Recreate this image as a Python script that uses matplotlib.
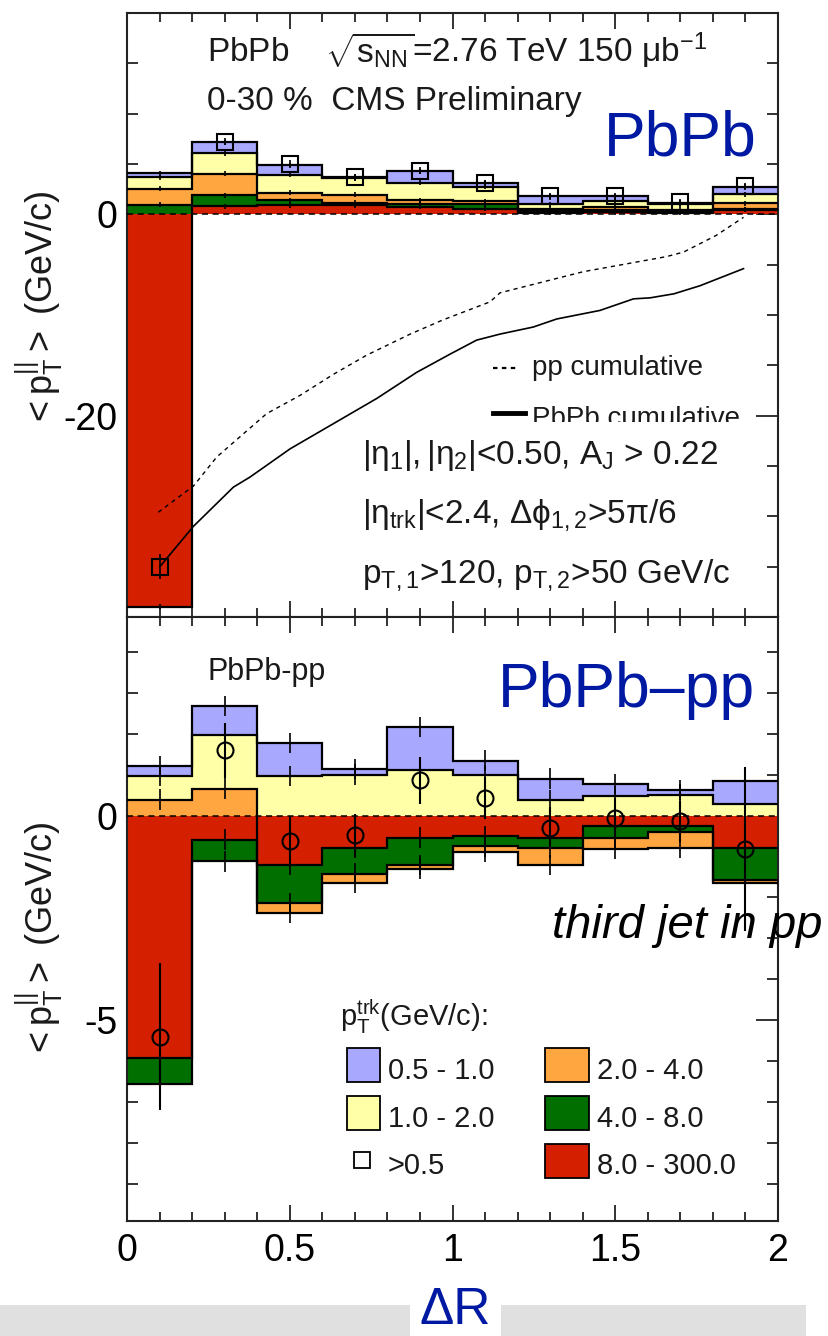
import numpy as np
import matplotlib
matplotlib.use('Agg')
import matplotlib.pyplot as plt
from matplotlib.patches import Rectangle
from matplotlib.ticker import MultipleLocator

plt.rcParams['font.family'] = ['Liberation Sans', 'DejaVu Sans']
plt.rcParams['mathtext.fontset'] = 'custom'
plt.rcParams['mathtext.rm'] = 'Liberation Sans'
plt.rcParams['mathtext.it'] = 'Liberation Sans'
plt.rcParams['mathtext.bf'] = 'Liberation Sans:bold'
plt.rcParams['axes.unicode_minus'] = False

# Delta R bins
dr_edges = [0.0, 0.2, 0.4, 0.6, 0.8, 1.0, 1.2, 1.4, 1.6, 1.8, 2.0]
dr_centers = [0.1, 0.3, 0.5, 0.7, 0.9, 1.1, 1.3, 1.5, 1.7, 1.9]

# pT^trk ranges, stacked from zero outwards
layer_names = ['8.0 - 300.0', '4.0 - 8.0', '2.0 - 4.0', '1.0 - 2.0', '0.5 - 1.0']
layer_colors = ['#d42000', '#006f00', '#ffa640', '#ffffa8', '#a8a8ff']

# top panel: PbPb 0-30%
pbpb_red = [-39.0, 0.8, 0.9, 0.9, 0.73, 0.57, 0.15, 0.2, 0.15, 0.47]
pbpb_green = [0.96, 1.1, 0.5, 0.26, 0.33, 0.43, 0.2, 0.25, 0.15, 0.05]
pbpb_orange = [1.59, 2.15, 0.72, 0.8, 0.33, 0.29, 0.22, 0.28, 0.17, 0.6]
pbpb_yellow = [1.15, 2.0, 1.83, 1.6, 1.76, 1.43, 0.43, 0.56, 0.53, 0.87]
pbpb_blue = [0.4, 1.1, 0.93, 0.15, 1.13, 0.43, 0.79, 0.5, 0.16, 0.73]
pbpb_total = [-35.0, 7.2, 5.0, 3.7, 4.35, 3.1, 1.8, 1.8, 1.2, 2.8]
pbpb_total_err = [1.25, 0.35, 0.35, 0.35, 0.35, 0.35, 0.35, 0.35, 0.35, 0.35]

# cumulative curves (top panel)
pp_cum_x = [0.096, 0.204, 0.276, 0.429, 0.531, 0.634, 0.736, 0.87, 0.97, 1.115, 1.146, 1.402, 1.658, 1.71, 1.81, 1.894]
pp_cum_y = [-29.6, -27.0, -24.1, -19.8, -18.0, -15.9, -14.0, -11.9, -10.5, -8.7, -7.8, -5.7, -4.2, -3.75, -2.1, -0.3]
pbpb_cum_x = [0.101, 0.204, 0.327, 0.378, 0.501, 0.634, 0.767, 0.89, 0.992, 1.074, 1.146, 1.248, 1.32, 1.453, 1.556, 1.607, 1.68, 1.76, 1.894]
pbpb_cum_y = [-35.0, -31.0, -27.1, -26.1, -23.3, -20.8, -18.3, -15.7, -13.9, -12.5, -11.9, -11.2, -10.4, -9.55, -8.4, -8.3, -7.9, -7.1, -5.4]

# bottom panel: PbPb - pp
diff_red = [-5.93, -0.59, -1.21, -0.79, -0.54, -0.51, -0.54, -0.26, -0.26, -0.79]
diff_green = [-0.62, -0.53, -0.92, -0.63, -0.67, -0.24, -0.25, -0.28, -0.13, -0.79]
diff_orange = [0.39, 0.66, -0.24, -0.22, -0.09, -0.13, -0.42, -0.27, -0.40, -0.06]
diff_yellow = [0.57, 1.30, 0.96, 1.0, 1.12, 0.98, 0.37, 0.47, 0.51, 0.29]
diff_blue = [0.24, 0.72, 0.81, 0.14, 1.04, 0.36, 0.53, 0.30, 0.11, 0.55]
diff_total = [-5.4, 1.59, -0.63, -0.48, 0.86, 0.43, -0.3, -0.06, -0.14, -0.81]
diff_total_err = [1.8, 0.67, 0.62, 0.52, 0.57, 0.52, 0.51, 0.5, 0.5, 2.0]

layer_err = 0.25
blue_txt = '#0019a3'


def draw_stack(ax, layers, err):
    pos = np.zeros(len(dr_centers))
    neg = np.zeros(len(dr_centers))
    for vals, col in zip(layers, layer_colors):
        v = np.asarray(vals, dtype=float)
        up = v >= 0
        lo = np.where(up, pos, neg + v)
        hi = np.where(up, pos + v, neg)
        far = np.where(up, hi, lo)
        pos = np.where(up, hi, pos)
        neg = np.where(up, neg, lo)
        ax.stairs(hi, dr_edges, baseline=lo, fill=True, color=col, lw=0, zorder=2)
        ax.stairs(far, dr_edges, baseline=None, color='k', lw=1.6, zorder=3)
        ax.errorbar(dr_centers, far, yerr=err, fmt='none', ecolor='k',
                    elinewidth=1.2, zorder=3)


fig = plt.figure(figsize=(8.29, 13.36), dpi=100)
ax1 = fig.add_axes([0.1532, 0.5382, 0.7853, 0.4521])
ax2 = fig.add_axes([0.1532, 0.0861, 0.7853, 0.4521])

# ---- top panel
draw_stack(ax1, [pbpb_red, pbpb_green, pbpb_orange, pbpb_yellow, pbpb_blue], layer_err)
ax1.axhline(0, color='k', ls=(0, (4, 3)), lw=1.1, zorder=4)
ax1.plot(pp_cum_x, pp_cum_y, color='k', ls=(0, (3, 3)), lw=1.0, zorder=4)
ax1.plot(pbpb_cum_x, pbpb_cum_y, color='k', lw=1.2, zorder=4)
ax1.errorbar(dr_centers, pbpb_total, yerr=pbpb_total_err, fmt='s', ms=11.5,
             mfc='none', mec='k', mew=1.5, ecolor='k', elinewidth=1.2, zorder=5)
ax1.set_xlim(0, 2)
ax1.set_ylim(-40, 20)
ax1.set_yticks([-20, 0])
ax1.yaxis.set_minor_locator(MultipleLocator(5))

ax1.text(0.246, 15.12, r'PbPb    $\sqrt{s_{NN}}$=2.76 TeV 150 $\mu$b$^{-1}$', size=24, color='#1a1a1a')
ax1.text(0.246, 10.35, '0-30 %  CMS Preliminary', size=24, color='#1a1a1a')
ax1.text(1.935, 5.87, 'PbPb', ha='right', size=45, color=blue_txt)

# cumulative legend
ax1.plot([1.124, 1.201], [-15.3, -15.3], color='k', ls=(0, (2, 2)), lw=1.6)
ax1.text(1.244, -16.0, 'pp cumulative', size=20, color='#1a1a1a')
ax1.plot([1.124, 1.223], [-19.7, -19.7], color='k', lw=3.5)
clip = Rectangle((1.1, -20.65), 0.9, 8, transform=ax1.transData)
t = ax1.text(1.244, -21.0, 'PbPb cumulative', size=20, color='#1a1a1a', clip_on=True)
t.set_clip_path(clip)

ax1.text(0.722, -24.8, r'$|\eta_{1}|,|\eta_{2}|$<0.50, A$_{J}$ > 0.22', size=24, color='#1a1a1a')
ax1.text(0.722, -30.6, r'$|\eta_{trk}|$<2.4, $\Delta\phi_{1,2}$>5$\pi$/6', size=24, color='#1a1a1a')
ax1.text(0.722, -36.6, r'p$_{T,1}$>120, p$_{T,2}$>50 GeV/c', size=24, color='#1a1a1a')

# ---- bottom panel
draw_stack(ax2, [diff_red, diff_green, diff_orange, diff_yellow, diff_blue], layer_err)
ax2.axhline(0, color='k', ls=(0, (4, 3)), lw=1.1, zorder=4)
ax2.errorbar(dr_centers, diff_total, yerr=diff_total_err, fmt='o', ms=11.5,
             mfc='none', mec='k', mew=1.5, ecolor='k', elinewidth=1.5, zorder=5)
ax2.set_xlim(0, 2)
ax2.set_ylim(-9.9, 4.85)
ax2.set_yticks([-5, 0])
ax2.yaxis.set_minor_locator(MultipleLocator(1))

ax2.text(0.246, 3.32, 'PbPb-pp', size=22, color='#1a1a1a')
ax2.text(1.929, 2.66, 'PbPb\u2013pp', ha='right', size=45, color=blue_txt)

# pT^trk legend
ax2.text(0.654, -5.15, r'p$_{T}^{trk}$(GeV/c):', size=21, color='#1a1a1a')
legend_cells = [
    (0.676, 0.101, -6.51, 0.802, -6.44, 4),
    (0.676, 0.101, -7.68, 0.802, -7.60, 3),
    (1.284, 0.135, -6.51, 1.444, -6.44, 2),
    (1.284, 0.135, -7.68, 1.444, -7.60, 1),
    (1.284, 0.135, -8.84, 1.444, -8.76, 0),
]
for bx, bw, by, tx, ty, k in legend_cells:
    ax2.add_patch(Rectangle((bx, by), bw, 0.83, facecolor=layer_colors[k],
                            edgecolor='k', lw=1.3, zorder=6))
    ax2.text(tx, ty, layer_names[k], size=21, color='#1a1a1a')
ax2.plot([0.722], [-8.42], marker='s', ms=11, mfc='none', mec='k', mew=1.3, ls='none')
ax2.text(0.802, -8.76, '>0.5', size=21, color='#1a1a1a')

# ---- axes styling
for ax in (ax1, ax2):
    ax.xaxis.set_major_locator(MultipleLocator(0.5))
    ax.xaxis.set_minor_locator(MultipleLocator(0.1))
    ax.tick_params(which='both', direction='in', top=True, right=True,
                   width=1.3, color='#222222', labelsize=27)
    ax.tick_params(axis='x', which='major', length=11.5)
    ax.tick_params(axis='x', which='minor', length=6.5)
    ax.tick_params(axis='y', which='major', length=15.5, pad=7)
    ax.tick_params(axis='y', which='minor', length=8)
    for s in ax.spines.values():
        s.set_linewidth(1.5)
        s.set_color('#222222')

ax1.tick_params(labelbottom=False)
ax2.set_xticks([0, 0.5, 1, 1.5, 2])
ax2.set_xticklabels(['0', '0.5', '1', '1.5', '2'])
ax2.tick_params(axis='x', pad=9)

ylab = r'$<$p$_{T}^{||}$$>$ (GeV/c)'
ax1.text(-0.134, 0.51, ylab, transform=ax1.transAxes, rotation=90,
         ha='center', va='center', size=26, color='#1a1a1a')
ax2.text(-0.134, 0.465, ylab, transform=ax2.transAxes, rotation=90,
         ha='center', va='center', size=26, color='#1a1a1a')

fig.text(822 / 829, 1 - 938 / 1336, 'third jet in pp', ha='right', va='baseline',
         style='italic', size=34, color='black')

# bottom band with Delta R
fig.add_artist(Rectangle((0, 0), 410 / 829, 31 / 1336, transform=fig.transFigure,
                         facecolor='#e0e0e0', edgecolor='none'))
fig.add_artist(Rectangle((501 / 829, 0), 305 / 829, 31 / 1336, transform=fig.transFigure,
                         facecolor='#e0e0e0', edgecolor='none'))
fig.text(455 / 829, 1 / 1336, '\u0394R', ha='center', va='bottom', size=37, color=blue_txt)

fig.savefig('out.png', dpi=100)
